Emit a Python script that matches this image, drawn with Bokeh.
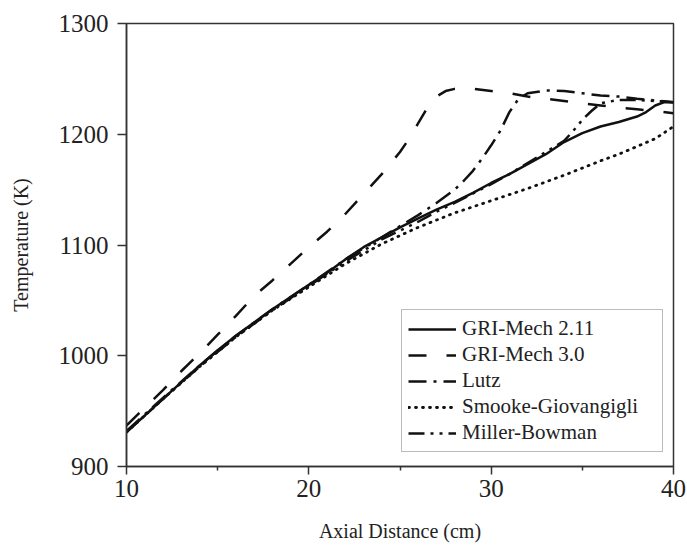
from bokeh.plotting import figure
from bokeh.models import Range1d, Legend, LegendItem, FixedTicker
from bokeh.embed import file_html
from bokeh.resources import INLINE

# ---- data ----
gri211_x = [10, 11, 12, 13, 14, 15, 16, 17, 18, 19, 20, 21, 22, 23, 24, 25, 26, 27, 28, 29, 30,
            31, 32, 33, 34, 35, 36, 37, 38, 38.5, 39, 39.5, 40]
gri211_t = [931, 946, 961, 976, 991, 1005, 1018, 1030, 1042, 1053, 1064, 1075, 1087, 1098, 1107,
            1116, 1124, 1132, 1139, 1147, 1156, 1164, 1173, 1182, 1193, 1201, 1207, 1211, 1216,
            1220, 1226, 1229, 1229]

gri30_x = [10, 11, 12, 13, 14, 15, 16, 17, 18, 19, 20, 21, 22, 23, 24, 25, 25.5, 26, 26.5, 27,
           27.5, 28, 28.5, 29, 30, 31, 32, 33, 34, 35, 36, 37, 38, 39, 40]
gri30_t = [937, 953, 969, 986, 1002, 1019, 1036, 1054, 1068, 1083, 1098, 1112, 1128, 1146, 1164,
           1184, 1196, 1210, 1224, 1234, 1239, 1241, 1241.5, 1241, 1239, 1237, 1234, 1232, 1230,
           1228, 1226, 1224, 1222.5, 1221, 1219]

lutz_x = [10, 12, 14, 16, 18, 20, 22, 24, 25, 26, 27, 28, 28.5, 29, 29.5, 30, 30.5, 31, 31.5, 32,
          33, 34, 35, 36, 37, 38, 39, 40]
lutz_t = [932, 962, 991, 1018, 1042, 1064, 1087, 1107, 1117, 1127, 1138, 1150, 1158, 1167, 1178,
          1190, 1203, 1220, 1232, 1237, 1239.5, 1239, 1237, 1235, 1234, 1232, 1230.5, 1229]

smooke_x = [10, 12, 14, 16, 18, 20, 22, 24, 26, 28, 30, 32, 34, 36, 37, 38, 39, 40]
smooke_t = [931, 961, 990, 1017, 1041, 1062, 1083, 1101, 1116, 1129, 1140, 1151, 1163, 1176, 1182,
            1189, 1196, 1207]

miller_x = [10, 12, 14, 16, 18, 20, 22, 24, 26, 27, 28, 30, 31, 32, 33, 34, 34.5, 35, 35.5, 36,
            37, 38, 39, 40]
miller_t = [931, 961, 990, 1017, 1041, 1063, 1085, 1105, 1121, 1130, 1138, 1155, 1164, 1174, 1184,
            1194, 1203, 1213, 1221, 1228, 1231, 1231, 1230, 1229]

labels = ["GRI-Mech 2.11", "GRI-Mech 3.0", "Lutz", "Smooke-Giovangigli", "Miller-Bowman"]

FONT = "Liberation Serif"
INK = "#111111"
AX = "#333333"

p = figure(width=687, height=545, x_range=Range1d(10, 40), y_range=Range1d(900, 1300),
           output_backend="svg", toolbar_location=None,
           min_border_left=126, min_border_right=14, min_border_top=23, min_border_bottom=79)
p.background_fill_color = "white"
p.border_fill_color = "white"
p.outline_line_color = AX
p.outline_line_width = 1.5
p.xgrid.grid_line_color = None
p.ygrid.grid_line_color = None

r1 = p.line(gri211_x, gri211_t, line_color=INK, line_width=2.5)
r2 = p.line(gri30_x, gri30_t, line_color=INK, line_width=2.5, line_dash="18 20")
r3 = p.line(lutz_x, lutz_t, line_color=INK, line_width=2.5, line_dash="18 7 3 7")
r4 = p.line(smooke_x, smooke_t, line_color=INK, line_width=2.8, line_dash="1 6",
            line_cap="round")
r5 = p.line(miller_x, miller_t, line_color=INK, line_width=2.5, line_dash="16 6 3 6 3 6")

# axes
p.xaxis.ticker = FixedTicker(ticks=[10, 20, 30, 40], minor_ticks=[15, 25, 35])
p.yaxis.ticker = FixedTicker(ticks=[900, 1000, 1100, 1200, 1300], minor_ticks=[])
for ax in (p.xaxis[0], p.yaxis[0]):
    ax.axis_line_color = AX
    ax.axis_line_width = 1.5
    ax.major_tick_line_color = AX
    ax.major_tick_line_width = 1.5
    ax.minor_tick_line_color = AX
    ax.minor_tick_line_width = 1.5
    ax.major_tick_in = 0
    ax.minor_tick_in = 0
    ax.major_label_text_font = FONT
    ax.major_label_text_font_size = "25px"
    ax.major_label_text_color = "#222222"
    ax.axis_label_text_font = FONT
    ax.axis_label_text_font_size = "20px"
    ax.axis_label_text_font_style = "normal"
    ax.axis_label_text_color = "#222222"

p.xaxis.major_tick_out = 8
p.xaxis.minor_tick_out = 4
p.xaxis.major_label_standoff = 5
p.xaxis.axis_label = "Axial Distance (cm)"
p.xaxis.axis_label_standoff = 20

p.yaxis.major_tick_out = 9
p.yaxis.minor_tick_line_color = None
p.yaxis.major_label_standoff = 9
p.yaxis.axis_label = "Temperature (K)"
p.yaxis.axis_label_standoff = 24

legend = Legend(items=[LegendItem(label=l, renderers=[r]) for l, r in
                       zip(labels, [r1, r2, r3, r4, r5])],
                location=(275, 14))
legend.border_line_color = "#777777"
legend.border_line_width = 1
legend.background_fill_color = "white"
legend.background_fill_alpha = 1
legend.label_text_font = FONT
legend.label_text_font_size = "21px"
legend.label_text_color = "#222222"
legend.glyph_width = 48
legend.glyph_height = 20
legend.label_height = 20
legend.label_standoff = 6
legend.padding = 6
legend.spacing = 1
legend.margin = 0
legend.label_width = 194
p.add_layout(legend)

open("out.html", "w").write(file_html(p, INLINE))
